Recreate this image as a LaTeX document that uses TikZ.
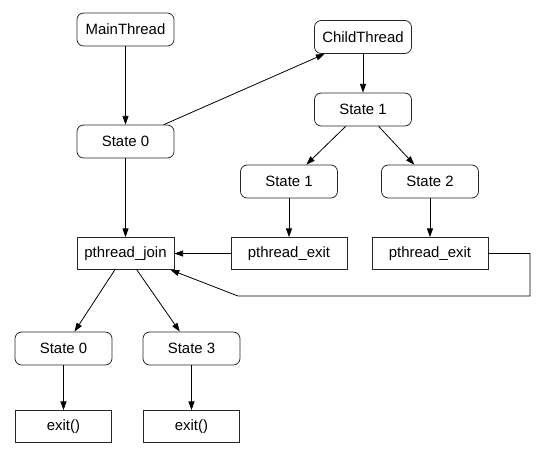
\documentclass[tikz,border=0pt]{standalone}
\usepackage{fontspec}
\setmainfont{Liberation Sans}
\usetikzlibrary{arrows.meta}
\tikzstyle{flowChart} = [x = .75pt, y = -.75pt, every node/.style={font=\fontsize{11.2}{13}\selectfont}]
\tikzstyle{stateStyle} = [draw=black!85, line width=.6pt, rounded corners = 5pt, minimum width = 72.75pt, minimum height = 24.75pt, inner sep = 0pt]
\tikzstyle{callStyle} = [draw=black!85, line width=.6pt, minimum height = 24pt, inner sep = 0pt]
\tikzstyle{flowArrow} = [line width=.6pt, -{Triangle[length=6.5pt, width=4.5pt]}]

\begin{document}
\begin{tikzpicture}[flowChart]
          \useasboundingbox (0,0) rectangle (543,455);
          % main thread
          \node [stateStyle] (mainThread) at (125.5,29.5) {MainThread};
          \node [stateStyle] (mainState) at (125.5,141.5) {State 0};
          \node [callStyle, minimum width = 72.75pt] (join) at (125.5,253.5) {pthread\_join};
          \node [stateStyle] (endStateA) at (63.5,348.5) {State 0};
          \node [stateStyle] (endStateB) at (191.5,348.5) {State 3};
          \node [callStyle, minimum width = 72pt] (exitA) at (63.5,426.5) {exit()};
          \node [callStyle, minimum width = 72pt] (exitB) at (191.5,426.5) {exit()};

          % child thread
          \node [stateStyle] (childThread) at (363,37) {ChildThread};
          \node [stateStyle] (childState) at (363,109.5) {State 1};
          \node [stateStyle] (childStateA) at (289,181.5) {State 1};
          \node [stateStyle] (childStateB) at (430,181.5) {State 2};
          \node [callStyle, minimum width = 87pt] (childExitA) at (289,253.5) {pthread\_exit};
          \node [callStyle, minimum width = 87pt] (childExitB) at (430,253.5) {pthread\_exit};
          \coordinate (loopCorner) at (530,296);
          \coordinate (loopBend) at (238,296);

          \draw [flowArrow] (mainThread) -- (mainState);
          \draw [flowArrow] (mainState) -- (join);
          \draw [flowArrow] (mainState) -- (childThread);
          \draw [flowArrow] (join) -- (endStateA);
          \draw [flowArrow] (join) -- (endStateB);
          \draw [flowArrow] (endStateA) -- (exitA);
          \draw [flowArrow] (endStateB) -- (exitB);
          \draw [flowArrow] (childThread) -- (childState);
          \draw [flowArrow] (childState) -- (childStateA);
          \draw [flowArrow] (childState) -- (childStateB);
          \draw [flowArrow] (childStateA) -- (childExitA);
          \draw [flowArrow] (childStateB) -- (childExitB);
          \draw [flowArrow] (childExitA) -- (join);
          \draw [flowArrow] (childExitB.east) -| (loopCorner) -- (loopBend) -- (join.-20);
        \end{tikzpicture}
\end{document}
